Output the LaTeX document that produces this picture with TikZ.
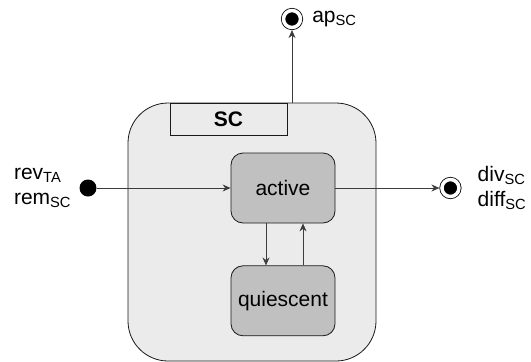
\documentclass[tikz,border=0pt]{standalone}
\usepackage{fontspec}
\setmainfont{Liberation Sans}
\usepackage{tikz}
\usetikzlibrary{positioning, arrows.meta}
\definecolor{boxbg}{HTML}{EBEBEB}
\definecolor{statebg}{HTML}{C0C0C0}
\definecolor{ink}{HTML}{1A1A1A}
\newcommand{\diagfont}{\fontsize{21}{25}\selectfont}
\tikzset{
  container/.style={rounded corners=40pt, draw=ink, line width=0.8pt, fill=boxbg,
                    minimum width=248pt, minimum height=258pt},
  titlebox/.style={draw=ink, line width=0.8pt, fill=boxbg, font=\diagfont\bfseries,
                   minimum width=117pt, minimum height=32pt, inner sep=0pt},
  state/.style={rounded corners=12pt, draw=ink, line width=0.8pt, fill=statebg,
                minimum width=104pt, minimum height=70pt, inner sep=0pt},
  initdot/.style={circle, fill=black, minimum size=17pt, inner sep=0pt},
  finaldot/.style={circle, draw=black, line width=0.8pt, fill=black, double=white,
                   double distance=3.5pt, minimum size=17pt, inner sep=0pt,
                   outer sep=2.55pt},
  lbl/.style={align=left, inner sep=0pt},
  flow/.style={-{Stealth[length=8pt, width=7pt]}, line width=0.8pt, draw=ink!85},
}

\begin{document}
\begin{tikzpicture}[x=1pt, y=1pt, font=\diagfont]
  \useasboundingbox (0,0) rectangle (531,-362);
  \node[container] (sc) at (252,-232) {};
  \node[titlebox, below right=0pt and 42pt of sc.north west, anchor=north west] (sctitle) {SC};
  \node[state] (active) at (283,-188) {active};
  \node[state, below=42pt of active] (quies) {quiescent};
  % entry, exit and ap pseudostates
  \node[initdot] (in) at (88,-188) {};
  \node[finaldot, right=104pt of active] (out) {};
  \node[finaldot] (ap) at (292,-19) {};
  \node[lbl, left=8pt of in] (inlbl) {rev\textsubscript{TA}\\rem\textsubscript{SC}};
  \node[lbl, right=16pt of out] (outlbl) {div\textsubscript{SC}\\diff\textsubscript{SC}};
  \node[lbl, right=9pt of ap] (aplbl) {ap\textsubscript{SC}};
  \draw[flow] (in)--(active);
  \draw[flow] (active)--(out);
  \draw[flow] (ap |- sc.north)--(ap);
  \draw[flow] ([xshift=-17pt]active.south)--([xshift=-17pt]quies.north);
  \draw[flow] ([xshift=20pt]quies.north)--([xshift=20pt]active.south);
\end{tikzpicture}
\end{document}
